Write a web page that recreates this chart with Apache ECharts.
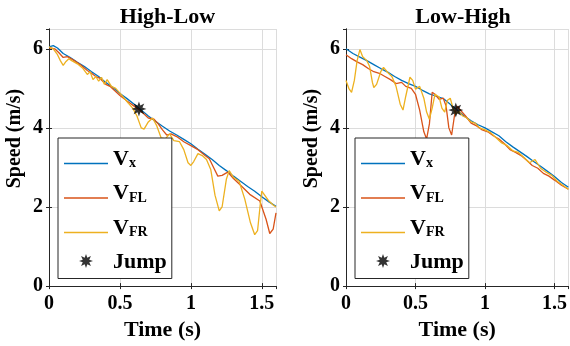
<!DOCTYPE html>
<html>
<head>
<meta charset="utf-8">
<script src="https://cdn.jsdelivr.net/npm/echarts@6/dist/echarts.min.js"></script>
<style>
  html, body { margin: 0; padding: 0; background: #fff; }
  #chart { width: 570px; height: 346px; }
</style>
</head>
<body>
<div id="chart"></div>
<script>
// panel titles and tick values
const panelTitles = ["High-Low", "Low-High"];
const xTicks = [0, 0.5, 1, 1.5];
const yTicks = [0, 2, 4, 6];
const seriesNames = ["Vx", "VFL", "VFR", "Jump"];

// High-Low panel, [time s, speed m/s]
const hlVx = [[0,6.05],[0.03,6.08],[0.06,6.02],[0.1,5.88],[0.15,5.78],[0.2,5.66],[0.25,5.55],[0.3,5.42],[0.35,5.3],[0.4,5.15],[0.45,5.02],[0.5,4.87],[0.55,4.74],[0.6,4.6],[0.65,4.45],[0.7,4.3],[0.75,4.17],[0.8,4.04],[0.85,3.92],[0.9,3.82],[0.95,3.71],[1.0,3.6],[1.05,3.46],[1.1,3.33],[1.15,3.2],[1.2,3.05],[1.25,2.92],[1.3,2.78],[1.35,2.65],[1.4,2.52],[1.45,2.4],[1.5,2.26],[1.55,2.13],[1.6,2.02]];
const hlFL = [[0,6.03],[0.04,6.0],[0.07,5.9],[0.1,5.78],[0.13,5.8],[0.17,5.72],[0.22,5.6],[0.27,5.45],[0.3,5.38],[0.33,5.3],[0.36,5.25],[0.4,5.1],[0.43,5.05],[0.46,4.95],[0.5,4.82],[0.55,4.68],[0.6,4.55],[0.64,4.45],[0.67,4.35],[0.7,4.25],[0.74,4.22],[0.77,4.1],[0.8,3.95],[0.83,3.82],[0.86,3.85],[0.9,3.78],[0.95,3.65],[1.0,3.55],[1.05,3.45],[1.1,3.3],[1.13,3.22],[1.16,3.0],[1.19,2.78],[1.22,2.8],[1.26,2.88],[1.3,2.72],[1.345,2.57],[1.415,2.32],[1.486,2.15],[1.53,1.69],[1.556,1.33],[1.58,1.44],[1.6,1.85]];
const hlFR = [[0,6.05],[0.03,6.0],[0.06,5.85],[0.08,5.7],[0.1,5.58],[0.12,5.68],[0.14,5.75],[0.16,5.7],[0.2,5.62],[0.24,5.5],[0.27,5.35],[0.29,5.42],[0.31,5.22],[0.33,5.3],[0.35,5.18],[0.37,5.28],[0.39,5.1],[0.41,5.22],[0.44,5.05],[0.47,5.0],[0.5,4.88],[0.53,4.75],[0.56,4.62],[0.59,4.5],[0.62,4.3],[0.65,4.0],[0.67,3.97],[0.7,4.15],[0.73,4.25],[0.76,4.05],[0.79,3.75],[0.82,3.72],[0.85,3.85],[0.88,3.68],[0.92,3.65],[0.95,3.45],[0.98,3.12],[1.0,3.05],[1.02,3.15],[1.05,3.35],[1.08,3.3],[1.11,3.2],[1.14,2.95],[1.17,2.3],[1.2,1.9],[1.22,2.0],[1.25,2.7],[1.27,2.92],[1.3,2.75],[1.34,2.65],[1.38,2.2],[1.42,1.6],[1.45,1.3],[1.47,1.4],[1.49,2.1],[1.5,2.4],[1.52,2.3],[1.55,2.15],[1.58,2.05],[1.6,2.0]];
const hlJump = [[0.634, 4.48]];

// Low-High panel, [time s, speed m/s]
const lhVx = [[0,6.0],[0.05,5.88],[0.1,5.79],[0.15,5.7],[0.2,5.6],[0.25,5.5],[0.3,5.41],[0.35,5.3],[0.4,5.2],[0.45,5.12],[0.5,5.05],[0.55,4.95],[0.6,4.86],[0.65,4.8],[0.7,4.74],[0.75,4.6],[0.8,4.45],[0.85,4.3],[0.9,4.18],[0.95,4.08],[1.0,4.0],[1.05,3.9],[1.1,3.8],[1.15,3.65],[1.2,3.52],[1.25,3.4],[1.3,3.28],[1.35,3.15],[1.4,3.03],[1.45,2.9],[1.5,2.77],[1.55,2.62],[1.6,2.5]];
const lhFL = [[0,5.85],[0.04,5.75],[0.08,5.67],[0.12,5.6],[0.16,5.5],[0.2,5.42],[0.24,5.38],[0.28,5.3],[0.32,5.22],[0.36,5.12],[0.4,5.15],[0.43,5.05],[0.47,5.0],[0.5,4.85],[0.53,4.45],[0.56,3.9],[0.58,3.72],[0.6,4.1],[0.62,4.9],[0.64,4.85],[0.67,4.72],[0.7,4.75],[0.72,4.55],[0.74,4.0],[0.76,3.82],[0.78,4.3],[0.8,4.55],[0.83,4.42],[0.86,4.3],[0.9,4.12],[0.94,4.05],[0.98,3.95],[1.02,3.9],[1.06,3.8],[1.1,3.72],[1.14,3.6],[1.18,3.45],[1.22,3.38],[1.26,3.3],[1.3,3.18],[1.34,3.05],[1.38,2.98],[1.42,2.85],[1.46,2.78],[1.5,2.68],[1.55,2.55],[1.6,2.45]];
const lhFR = [[0,5.2],[0.02,5.0],[0.04,4.9],[0.06,5.2],[0.08,5.7],[0.1,5.98],[0.12,5.8],[0.15,5.7],[0.17,5.55],[0.19,5.15],[0.2,5.02],[0.22,5.1],[0.25,5.42],[0.27,5.53],[0.3,5.4],[0.33,5.3],[0.36,5.05],[0.39,4.6],[0.41,4.45],[0.43,4.8],[0.46,5.28],[0.48,5.2],[0.5,4.98],[0.53,5.05],[0.56,4.75],[0.58,4.4],[0.6,4.22],[0.62,4.5],[0.64,4.85],[0.67,4.78],[0.69,4.5],[0.71,4.4],[0.73,4.7],[0.75,4.75],[0.77,4.5],[0.79,4.35],[0.81,4.42],[0.84,4.3],[0.87,4.25],[0.9,4.15],[0.93,4.12],[0.96,4.0],[1.0,3.95],[1.04,3.88],[1.08,3.75],[1.12,3.62],[1.16,3.55],[1.2,3.42],[1.24,3.38],[1.28,3.25],[1.32,3.12],[1.36,3.2],[1.4,2.98],[1.44,2.88],[1.48,2.8],[1.52,2.65],[1.56,2.55],[1.6,2.45]];
const lhJump = [[0.79, 4.45]];

const FONT = "Liberation Serif";
const INK = "#262626";
const colors = { Vx: "#0072BD", VFL: "#D95319", VFR: "#EDB120" };

// 8-point asterisk marker
let star = "path://";
for (let i = 0; i < 16; i++) {
  const r = i % 2 === 0 ? 10 : 5;
  const a = (i * Math.PI) / 8 - Math.PI / 2;
  star += (i === 0 ? "M" : "L") + (r * Math.cos(a)).toFixed(2) + "," + (r * Math.sin(a)).toFixed(2) + " ";
}
star += "Z";
// plain line for the legend
const legendLine = "path://M0,0 H44 V1.4 H0 Z";

const grids = [
  { left: 49, top: 29, width: 227, height: 258 },
  { left: 346, top: 29, width: 224, height: 258 }
];

const xAxis = [], yAxis = [];
grids.forEach((g, i) => {
  xAxis.push({
    type: "value", gridIndex: i, min: 0, max: 1.6, interval: 0.5,
    name: "Time (s)", nameLocation: "middle", nameGap: 30,
    nameTextStyle: { fontFamily: FONT, fontWeight: "bold", fontSize: 22, color: "#000" },
    axisLine: { lineStyle: { color: INK } },
    axisTick: { inside: true, length: 3, lineStyle: { color: INK } },
    axisLabel: { showMaxLabel: false, margin: 8, fontFamily: FONT, fontWeight: "bold", fontSize: 20, color: "#000",
      formatter: v => (xTicks.includes(v) ? String(v) : "") },
    splitLine: { show: true, lineStyle: { color: "#dcdcdc" } }
  });
  xAxis.push({
    type: "value", gridIndex: i, position: "top", min: 0, max: 1.6, interval: 0.5,
    axisLine: { lineStyle: { color: INK } },
    axisTick: { inside: true, length: 3, lineStyle: { color: INK } },
    axisLabel: { show: false }, splitLine: { show: false }
  });
  yAxis.push({
    type: "value", gridIndex: i, min: 0, max: 6.5, interval: 2,
    name: "{n|Speed (m/s)}", nameLocation: "middle", nameGap: 24,
    nameTextStyle: { fontFamily: FONT, fontWeight: "bold", fontSize: 20, color: "#000",
      rich: { n: { fontFamily: FONT, fontWeight: "bold", fontSize: 20, color: "#000", padding: [0, 0, 0, 38] } } },
    axisLine: { show: true, lineStyle: { color: INK } },
    axisTick: { show: true, inside: true, length: 3, lineStyle: { color: INK } },
    axisLabel: { showMaxLabel: false, margin: 6, fontFamily: FONT, fontWeight: "bold", fontSize: 20, color: "#000",
      formatter: v => (yTicks.includes(v) ? String(v) : "") },
    splitLine: { show: true, lineStyle: { color: "#dcdcdc" } }
  });
  yAxis.push({
    type: "value", gridIndex: i, position: "right", min: 0, max: 6.5, interval: 2,
    axisLine: { show: true, lineStyle: { color: INK } },
    axisTick: { show: true, inside: true, length: 3, lineStyle: { color: INK } },
    axisLabel: { show: false }, splitLine: { show: false }
  });
});

function lineSeries(name, data, panel) {
  return {
    type: "line", name, data, xAxisIndex: panel * 2, yAxisIndex: panel * 2,
    symbol: "none", showSymbol: false, animation: false,
    lineStyle: { color: colors[name], width: 1.3 },
    itemStyle: { color: colors[name] }
  };
}
function jumpSeries(data, panel) {
  return {
    type: "scatter", name: "Jump", data, xAxisIndex: panel * 2, yAxisIndex: panel * 2,
    symbol: star, symbolSize: 15, animation: false, z: 5,
    itemStyle: { color: "#000" }
  };
}

const panels = [[hlVx, hlFL, hlFR, hlJump], [lhVx, lhFL, lhFR, lhJump]];
const series = [];
panels.forEach((p, i) => {
  series.push(lineSeries("Vx", p[0], i), lineSeries("VFL", p[1], i), lineSeries("VFR", p[2], i), jumpSeries(p[3], i));
});

const legendBase = {
  orient: "vertical", selectedMode: false, itemWidth: 44, itemHeight: 14, itemGap: 12,
  padding: [10, 5, 5, 6], borderColor: INK, borderWidth: 1, backgroundColor: "#fff",
  data: seriesNames.map(n => (n === "Jump" ? { name: n, icon: star } : { name: n, icon: legendLine })),
  formatter: n => (n === "Jump" ? "{j|Jump}" : "{v|V}{s|" + n.slice(1) + "}"),
  textStyle: {
    fontFamily: FONT, fontWeight: "bold", color: "#000",
    rich: {
      v: { fontFamily: FONT, fontWeight: "bold", fontSize: 22, color: "#000", padding: [0, 0, 9, 0] },
      s: { fontFamily: FONT, fontWeight: "bold", fontSize: 14, color: "#000" },
      j: { fontFamily: FONT, fontWeight: "bold", fontSize: 22, color: "#000", padding: [3, 0, 0, 0] }
    }
  }
};

const chart = echarts.init(document.getElementById("chart"));
chart.setOption({
  animation: false,
  title: panelTitles.map((t, i) => ({
    text: t, left: grids[i].left + grids[i].width / 2, top: 1, textAlign: "center",
    textStyle: { fontFamily: FONT, fontWeight: "bold", fontSize: 22, color: "#000" }
  })),
  legend: [
    Object.assign({}, legendBase, { left: 58, top: 138 }),
    Object.assign({}, legendBase, { left: 355, top: 138 })
  ],
  grid: grids,
  xAxis, yAxis, series
});
</script>
</body>
</html>
